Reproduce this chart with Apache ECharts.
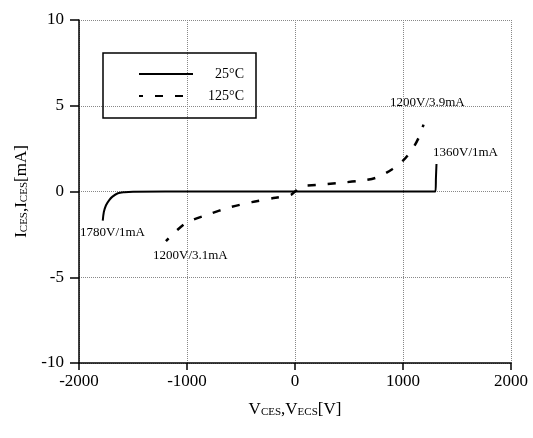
<!DOCTYPE html>
<html>
<head>
<meta charset="utf-8">
<script src="https://cdn.jsdelivr.net/npm/echarts@6/dist/echarts.min.js"></script>
<style>
	html, body { margin: 0; padding: 0; background: #fff; }
	#chart { width: 533px; height: 438px; }
</style>
</head>
<body>
<div id="chart"></div>
<script>
// 25°C curve (voltage V, current mA)
const v25 = [-1780, -1770, -1750, -1720, -1690, -1640, -1580, -1500, -1200, 0, 1000, 1300, 1305, 1310];
const i25 = [-1.7, -1.2, -0.8, -0.5, -0.3, -0.1, -0.04, -0.01, 0, 0, 0, 0, 0.8, 1.6];
// 125°C curve
const v125 = [-1195, -1100, -1000, -800, -600, -400, -200, -40, 0, 60, 200, 400, 600, 750, 900, 1000, 1090, 1150, 1190];
const i125 = [-2.9, -2.3, -1.8, -1.33, -0.92, -0.62, -0.38, -0.2, 0, 0.3, 0.38, 0.5, 0.62, 0.8, 1.3, 1.8, 2.5, 3.2, 3.9];
const seriesNames = ["25°C", "125°C"];
const xTicks = [-2000, 2000, 1000];
const yTicks = [-10, 10, 5];

const serif = "'Liberation Serif', 'DejaVu Serif', serif";

function pairs(xs, ys) {
	return xs.map((x, i) => [x, ys[i]]);
}

let chart = echarts.init(document.getElementById("chart"));
chart.setOption({
	animation: false,
	backgroundColor: "#fff",
	grid: {
		left: 79,
		right: 22,
		top: 20,
		bottom: 75,
	},
	legend: {
		orient: "vertical",
		left: 103,
		top: 53,
		itemWidth: 54,
		itemHeight: 10,
		itemGap: 8,
		padding: [14, 12, 15, 35],
		borderColor: "#000",
		borderWidth: 1.5,
		itemStyle: { opacity: 0 },
		formatter: "{t|{name}}",
		textStyle: {
			fontFamily: serif,
			fontSize: 14,
			color: "#000",
			rich: {
				t: { fontFamily: serif, fontSize: 14, color: "#000", width: 46, align: "right" },
			},
		},
		data: seriesNames,
	},
	xAxis: {
		type: "value",
		min: xTicks[0],
		max: xTicks[1],
		interval: xTicks[2],
		name: "V{s|CES},V{s|ECS}[V]",
		nameLocation: "middle",
		nameGap: 38,
		nameTextStyle: {
			fontFamily: serif,
			fontSize: 17,
			color: "#000",
			rich: {
				s: { fontFamily: serif, fontSize: 11, color: "#000", padding: [5, 0, 0, 0] },
			},
		},
		axisLine: { show: true, onZero: false, lineStyle: { color: "#000", width: 1.5 } },
		axisTick: { show: true, inside: false, length: 7, lineStyle: { color: "#000", width: 1.5 } },
		axisLabel: { fontFamily: serif, fontSize: 17, color: "#000", margin: 10, formatter: (v) => String(v) },
		splitLine: { show: true, lineStyle: { color: "#888", type: "dotted", width: 1 } },
	},
	yAxis: {
		type: "value",
		min: yTicks[0],
		max: yTicks[1],
		interval: yTicks[2],
		name: "I{s|CES},I{s|CES}[mA]",
		nameLocation: "middle",
		nameGap: 48,
		nameTextStyle: {
			fontFamily: serif,
			fontSize: 17,
			color: "#000",
			rich: {
				s: { fontFamily: serif, fontSize: 11, color: "#000", padding: [5, 0, 0, 0] },
			},
		},
		axisLine: { show: true, onZero: false, lineStyle: { color: "#000", width: 1.5 } },
		axisTick: { show: true, inside: false, length: 9, lineStyle: { color: "#000", width: 1.5 } },
		axisLabel: { fontFamily: serif, fontSize: 17, color: "#000", margin: 15, formatter: (v) => String(v) },
		splitLine: { show: true, lineStyle: { color: "#888", type: "dotted", width: 1 } },
	},
	series: [
		{
			name: seriesNames[0],
			type: "line",
			data: pairs(v25, i25),
			smooth: 0.3,
			symbol: "none",
			lineStyle: { color: "#000", width: 2 },
			itemStyle: { color: "#000" },
		},
		{
			name: seriesNames[1],
			type: "line",
			data: pairs(v125, i125),
			smooth: 0.3,
			symbol: "none",
			lineStyle: { color: "#000", width: 2.5, type: [8, 12], dashOffset: 4 },
			itemStyle: { color: "#000" },
		},
	],
	graphic: [
		{ type: "text", left: 80, top: 226, style: { text: "1780V/1mA", font: "13px " + serif, fill: "#000" } },
		{ type: "text", left: 153, top: 249, style: { text: "1200V/3.1mA", font: "13px " + serif, fill: "#000" } },
		{ type: "text", left: 390, top: 96, style: { text: "1200V/3.9mA", font: "13px " + serif, fill: "#000" } },
		{ type: "text", left: 433, top: 146, style: { text: "1360V/1mA", font: "13px " + serif, fill: "#000" } },
	],
});
</script>
</body>
</html>
